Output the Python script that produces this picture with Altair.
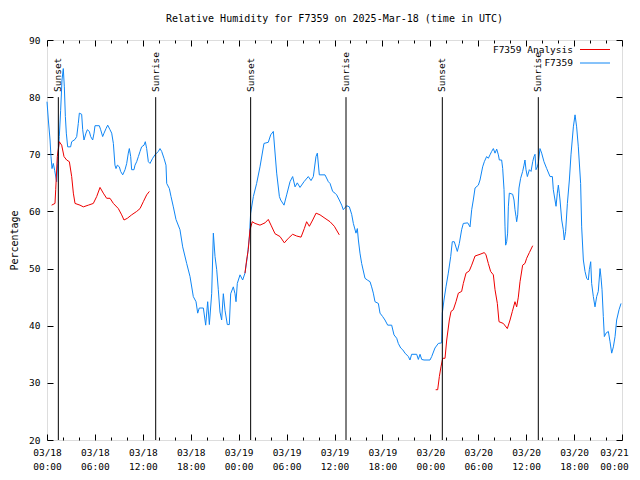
import altair as alt
import pandas as pd

FONT = "DejaVu Sans Mono"
BLUE = "#0f86f5"
RED = "#ee0000"

TITLE = "Relative Humidity for F7359 on 2025-Mar-18 (time in UTC)"
Y_TITLE = "Percentage"

# hours since 2025-03-18 00:00 UTC
blue_hours = [0.00, 0.17, 0.38, 0.50, 0.63, 0.79, 0.96, 1.21, 1.34, 1.54, 1.71, 1.88, 2.04, 2.17, 2.30, 2.42,
              2.59, 2.96, 3.09, 3.51, 3.72, 3.92, 4.05, 4.34, 4.47, 4.63, 4.88, 5.05, 5.30, 5.47, 5.72, 5.89,
              6.01, 6.55, 6.72, 6.97, 7.14, 7.39, 7.60, 7.89, 8.10, 8.31, 8.51, 8.64, 8.81, 9.06, 9.22, 9.48,
              9.77, 9.98, 10.18, 10.31, 10.48, 10.60, 10.89, 11.02, 11.23, 11.44, 11.65, 11.85, 12.15, 12.31,
              12.48, 12.69, 12.90, 13.23, 13.52, 13.73, 13.94, 14.15, 14.36, 14.65, 14.90, 14.99, 15.32, 15.53,
              15.82, 16.15, 16.65, 16.99, 17.49, 17.91, 18.32, 18.66, 18.87, 19.07, 19.58, 19.87, 20.12, 20.33,
              20.62, 20.83, 21.04, 21.25, 21.45, 21.66, 21.87, 22.08, 22.29, 22.58, 22.83, 23.00, 23.33, 23.54,
              23.67, 23.83, 24.17, 24.50, 24.79, 25.09, 25.34, 25.50, 25.84, 26.25, 26.67, 27.17, 27.71, 28.01,
              28.34, 28.76, 29.10, 29.26, 29.68, 30.01, 30.43, 30.76, 31.06, 31.34, 31.68, 32.18, 32.72, 33.06,
              33.35, 33.68, 33.85, 34.10, 34.81, 35.23, 35.44, 35.77, 36.06, 36.27, 36.60, 36.90, 37.10, 37.52,
              37.86, 38.15, 38.36, 38.69, 38.86, 38.99, 39.19, 39.40, 39.82, 40.11, 40.45, 40.65, 40.86, 41.07,
              41.49, 41.70, 42.03, 42.32, 42.66, 43.16, 43.45, 43.79, 43.99, 44.29, 44.54, 44.83, 45.25, 45.45,
              45.66, 46.29, 46.50, 46.71, 46.92, 47.21, 47.96, 48.17, 48.58, 49.00, 49.42, 49.50, 49.71, 49.96,
              50.25, 50.55, 50.75, 51.00, 51.38, 51.63, 51.92, 52.13, 52.68, 52.97, 53.18, 53.38, 53.60, 54.01,
              54.22, 54.55, 54.76, 55.05, 55.26, 55.47, 55.68, 55.89, 56.10, 56.31, 56.52, 56.64, 56.93, 57.06,
              57.23, 57.35, 57.43, 57.56, 57.68, 57.77, 57.89, 58.31, 58.48, 58.60, 58.73, 58.81, 58.94, 59.10,
              59.31, 59.56, 59.73, 59.85, 59.98, 60.15, 60.40, 60.61, 60.82, 60.98, 61.11, 61.23, 61.40, 61.52,
              61.73, 61.94, 62.23, 62.57, 62.99, 63.28, 63.40, 63.61, 63.74, 63.90, 64.03, 64.15, 64.24, 64.45,
              64.65, 64.77, 64.94, 65.16, 65.41, 65.61, 65.91, 66.12, 66.32, 66.53, 66.82, 66.95, 67.16, 67.37,
              67.58, 67.78, 67.91, 68.08, 68.20, 68.41, 68.62, 68.83, 69.03, 69.25, 69.37, 69.50, 69.66, 69.79,
              70.00, 70.29, 70.50, 70.71, 70.92, 71.13, 71.33, 71.63, 71.88]
blue_vals = [79.2, 76.0, 72.5, 69.6, 67.5, 68.4, 67.2, 65.2, 68.4, 73.1, 77.7, 83.0, 85.0, 81.8, 76.6, 73.7,
             71.3, 71.3, 72.2, 72.6, 73.1, 75.4, 77.2, 77.0, 74.3, 72.5, 73.7, 74.3, 74.0, 73.1, 72.5, 73.7,
             75.0, 75.0, 74.3, 73.1, 73.7, 74.5, 75.1, 74.3, 73.7, 71.9, 68.1, 67.5, 68.1, 67.8, 67.0, 66.4,
             67.3, 68.4, 70.2, 71.0, 69.6, 67.3, 67.3, 68.1, 68.7, 69.6, 70.5, 71.3, 71.6, 72.2,
             71.0, 68.7, 68.4, 69.3, 69.9, 70.2, 70.5, 71.0, 70.5, 69.3, 68.1, 64.9, 64.0, 62.6,
             60.8, 58.6, 56.8, 53.8, 50.9, 48.6, 45.1, 44.2, 42.2, 43.1, 43.1, 40.1, 44.2, 40.2,
             45.6, 56.2, 52.1, 49.8, 46.3, 42.4, 41.0, 45.6, 42.7, 40.2, 40.2, 45.6, 46.8, 45.6,
             44.2, 47.4, 48.9, 48.0, 49.2, 52.1, 55.6, 59.7, 62.6, 64.9, 67.8, 71.9, 72.1, 73.4,
             74.0, 66.7, 62.6, 62.0, 61.1, 62.9, 65.2, 66.1, 64.3, 65.0, 64.2, 65.2, 66.1, 65.4,
             66.1, 69.6, 70.2, 66.4, 66.4, 65.2, 64.9, 63.5, 63.2, 62.9, 62.0, 61.1, 60.3, 61.0,
             60.8, 59.5, 57.9, 56.2, 57.0, 55.0, 52.7, 50.9, 48.3, 48.0, 47.7, 46.8, 45.7, 44.2,
             43.9, 42.2, 41.6, 41.0, 40.1, 40.1, 38.4, 37.8, 36.9, 36.1, 35.8, 35.2, 34.6, 34.0,
             35.0, 35.0, 34.1, 35.0, 34.1, 34.0, 34.0, 34.6, 36.1, 36.9, 37.0, 42.2, 44.5, 46.8,
             49.2, 52.1, 54.7, 54.7, 53.0, 54.4, 56.8, 57.9, 58.0, 57.3, 60.3, 62.0, 64.1, 64.6,
             65.5, 67.8, 68.7, 69.6, 69.3, 69.9, 70.5, 71.0, 70.2, 70.9, 69.9, 69.0, 69.0, 67.5,
             63.8, 57.3, 54.1, 54.7, 56.2, 60.8, 63.2, 63.0, 62.0, 60.3, 59.1, 58.2, 59.4, 64.1,
             65.8, 67.0, 68.1, 69.0, 67.3, 66.1, 67.3, 67.0, 68.7, 69.6, 70.0, 67.3, 67.8, 68.4,
             71.0, 70.2, 68.7, 67.5, 66.1, 66.1, 63.8, 62.0, 60.9, 63.2, 64.6, 63.2, 62.0, 58.5,
             56.8, 55.0, 56.5, 61.4, 65.5, 69.9, 74.8, 76.9, 74.8, 71.3, 64.9, 57.3, 51.5, 49.5,
             48.3, 48.0, 49.8, 51.2, 47.4, 45.1, 43.3, 45.1, 46.0, 50.0, 48.5, 46.3, 41.6, 38.1,
             38.7, 39.0, 37.2, 35.2, 36.3, 38.1, 41.0, 42.8, 43.9]

red_hours_1 = [0.58, 1.00, 1.09, 1.29, 1.54, 1.84, 2.13, 2.46, 2.80, 3.09, 3.30, 3.51, 4.13, 4.55, 5.18, 5.80,
               6.22, 6.64, 7.05, 7.47, 7.89, 8.31, 8.93, 9.35, 9.64, 10.06, 10.60, 11.23, 11.65, 12.06, 12.48, 12.82]
red_vals_1 = [61.1, 61.4, 63.8, 69.6, 72.2, 71.6, 69.6, 69.0, 68.7, 66.1, 63.2, 61.4, 61.1, 60.8, 61.1, 61.4,
              62.6, 64.2, 63.2, 62.3, 62.3, 61.4, 60.5, 59.4, 58.5, 58.8, 59.4, 60.0, 60.5, 61.7, 62.9, 63.5]
red_hours_2 = [24.79, 25.00, 25.20, 25.42, 25.71, 26.05, 26.67, 27.30, 27.71, 28.05, 28.55, 29.18, 29.72, 30.22,
               30.76, 31.26, 31.81, 32.22, 32.51, 32.85, 33.27, 33.69, 34.19, 34.81, 35.44, 35.98, 36.60]
red_vals_2 = [49.2, 51.5, 53.3, 56.8, 58.2, 57.9, 57.6, 58.0, 58.6, 57.6, 56.1, 55.6, 54.5, 55.3,
              56.0, 55.7, 55.5, 57.0, 58.2, 57.4, 58.5, 59.7, 59.4, 58.8, 58.2, 57.4, 55.9]
red_hours_3 = [48.67, 48.92, 49.13, 49.33, 49.55, 49.84, 50.05, 50.38, 50.59, 50.88, 51.21, 51.51, 51.92, 52.13,
               52.47, 52.88, 53.18, 53.60, 54.22, 54.76, 54.97, 55.26, 55.55, 55.89, 56.10, 56.39, 56.60, 57.14,
               57.64, 57.98, 58.27, 58.60, 58.81, 59.02, 59.23, 59.56, 59.85, 60.06, 60.40, 60.82]
red_vals_3 = [28.8, 28.8, 31.1, 32.8, 34.3, 34.3, 37.5, 41.0, 42.5, 42.8, 44.2, 45.7, 46.0, 47.4,
              49.2, 49.6, 50.6, 52.2, 52.5, 52.8, 52.4, 50.9, 49.5, 48.9, 46.3, 43.9, 40.7, 40.4,
              39.5, 41.0, 42.5, 44.2, 43.3, 45.0, 47.7, 50.6, 50.9, 51.8, 52.8, 54.0]

event_hours = [1.42, 13.61, 25.50, 37.44, 49.50, 61.52]
event_labels = ["Sunset", "Sunrise", "Sunset", "Sunrise", "Sunset", "Sunrise"]

x_tick_hours = [0, 6, 12, 18, 24, 30, 36, 42, 48, 54, 60, 66, 72]
x_tick_dates = ["03/18", "03/18", "03/18", "03/18", "03/19", "03/19", "03/19", "03/19",
                "03/20", "03/20", "03/20", "03/20", "03/21"]
x_tick_times = ["00:00", "06:00", "12:00", "18:00", "00:00", "06:00", "12:00", "18:00",
                "00:00", "06:00", "12:00", "18:00", "00:00"]
x_minor_hours = list(range(0, 73, 2))
y_ticks = [20, 30, 40, 50, 60, 70, 80, 90]

legend_labels = ["F7359 Analysis", "F7359"]

W, H = 575, 400

df_blue = pd.DataFrame({"hour": blue_hours, "val": blue_vals})
df_red = pd.concat([
    pd.DataFrame({"hour": red_hours_1, "val": red_vals_1, "seg": 1}),
    pd.DataFrame({"hour": red_hours_2, "val": red_vals_2, "seg": 2}),
    pd.DataFrame({"hour": red_hours_3, "val": red_vals_3, "seg": 3}),
], ignore_index=True)
df_events = pd.DataFrame({"hour": event_hours, "label": event_labels})

label_expr = "''"
for h, d, t in reversed(list(zip(x_tick_hours, x_tick_dates, x_tick_times))):
    label_expr = f"datum.value == {h} ? ['{d}', '{t}'] : ({label_expr})"

xs = alt.Scale(domain=[0, 72], nice=False, zero=False)
ys = alt.Scale(domain=[20, 90], nice=False, zero=False)

common_axis = dict(grid=False, labelFont=FONT, labelFontSize=9.5, labelColor="black",
                   tickColor="black", tickWidth=1, titleFont=FONT, titleFontSize=10,
                   titleFontWeight="normal", titleColor="black")

tick_cond = {"condition": {"test": "datum.value % 6 === 0", "value": 6}, "value": 3}
last_label_shift = {"condition": {"test": f"datum.value === {x_tick_hours[-1]}", "value": -8}, "value": 0}

blue = alt.Chart(df_blue).mark_line(color=BLUE, strokeWidth=1).encode(
    x=alt.X("hour:Q", scale=xs, axis=alt.Axis(
        orient="bottom", values=x_tick_hours, labelExpr=label_expr, ticks=False, domain=False,
        labelPadding=7, labelLineHeight=14, labelFlush=False, labelOverlap=False, title=None,
        labelOffset=last_label_shift, **common_axis)),
    y=alt.Y("val:Q", scale=ys, axis=alt.Axis(
        orient="left", values=y_ticks, ticks=False, domain=False, labelPadding=7,
        title=Y_TITLE, titlePadding=9, labelFlush=False, **common_axis)),
)

red = alt.Chart(df_red).mark_line(color=RED, strokeWidth=1).encode(
    x=alt.X("hour:Q", scale=xs, axis=alt.Axis(
        orient="top", offset=-H, values=x_minor_hours, labels=False, domain=False, title=None,
        tickSize=tick_cond, **common_axis)),
    y=alt.Y("val:Q", scale=ys, axis=alt.Axis(
        orient="right", offset=-W, values=y_ticks, labels=False, domain=False, title=None,
        tickSize=6, **common_axis)),
    detail="seg:N",
)

rules = alt.Chart(df_events).mark_rule(color="black", strokeWidth=1).encode(
    x=alt.X("hour:Q", scale=xs, axis=alt.Axis(
        orient="bottom", offset=-H, values=x_minor_hours, labels=False, domain=False, title=None,
        tickSize=tick_cond, **common_axis)),
    y=alt.Y(datum=80, type="quantitative", scale=ys, axis=alt.Axis(
        orient="left", offset=-W, values=y_ticks, labels=False, domain=False, title=None,
        tickSize=6, **common_axis)),
    y2=alt.Y2(datum=20),
)

event_text = alt.Chart(df_events).mark_text(
    angle=270, align="left", baseline="middle", font=FONT, fontSize=9.5, color="black"
).encode(
    x=alt.X("hour:Q", scale=xs, axis=None),
    y=alt.Y(datum=80.9, type="quantitative", scale=ys, axis=None),
    text="label:N",
)

def legend_row(label, color, ypix):
    d = pd.DataFrame({"label": [label]})
    t = alt.Chart(d).mark_text(align="right", baseline="middle", font=FONT, fontSize=9.5,
                               color="black").encode(
        x=alt.value(526), y=alt.value(ypix), text="label:N")
    r = alt.Chart(d).mark_rule(color=color, strokeWidth=1).encode(
        x=alt.value(533), x2=alt.value(563), y=alt.value(ypix))
    return [t, r]

legend_layers = legend_row(legend_labels[0], RED, 9.5) + legend_row(legend_labels[1], BLUE, 23)

chart = alt.layer(blue, red, rules, event_text, *legend_layers).resolve_scale(
    x="shared", y="shared"
).resolve_axis(
    x="independent", y="independent"
).properties(
    width=W, height=H,
    autosize=alt.AutoSizeParams(type="none"),
    padding={"left": 39, "top": 32, "right": 9, "bottom": 32},
    title=alt.TitleParams(TITLE, font=FONT, fontSize=10, fontWeight="normal", color="black",
                          anchor="middle", frame="group", offset=11),
).configure_view(
    stroke="black", strokeWidth=1
).configure(background="white")

chart.save("out.html", embed_options={"renderer": "svg", "actions": False})
